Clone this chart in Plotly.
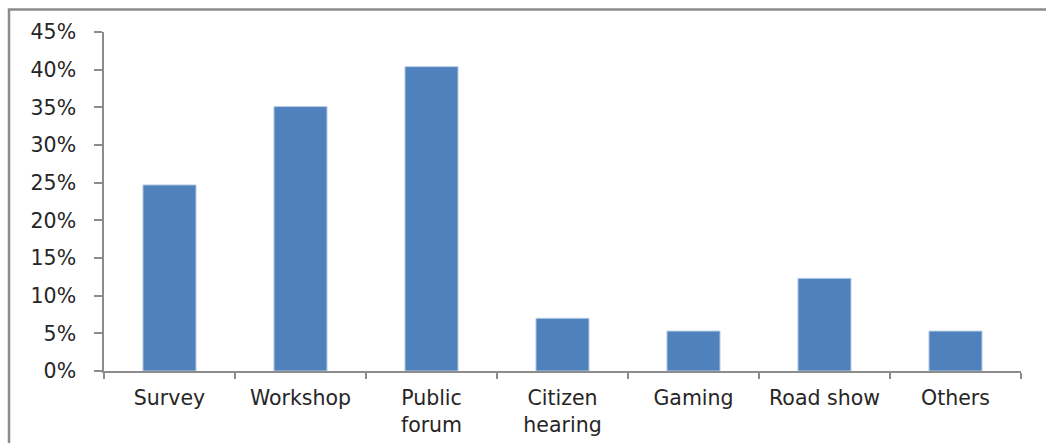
import plotly.graph_objects as go

# Share of participation methods
categories = ["Survey", "Workshop", "Public<br>forum", "Citizen<br>hearing",
              "Gaming", "Road show", "Others"]
shares = [0.247, 0.351, 0.404, 0.070, 0.053, 0.123, 0.053]
y_ticks = [0, 0.05, 0.10, 0.15, 0.20, 0.25, 0.30, 0.35, 0.40, 0.45]

BAR = "#4F81BD"
AXIS = "#8C8C8C"
TEXT = "#262626"
FONT = "DejaVu Sans"
FSIZE = 20.5

fig = go.Figure(
    go.Bar(
        x=categories,
        y=shares,
        marker=dict(color=BAR, line=dict(color="#B9CDE5", width=1)),
        hoverinfo="x+y",
    )
)

fig.update_layout(
    width=1046,
    height=443,
    margin=dict(l=104, r=25, t=32, b=72),
    paper_bgcolor="white",
    plot_bgcolor="white",
    bargap=0.595,
    showlegend=False,
    font=dict(family=FONT, size=FSIZE, color=TEXT),
    shapes=[
        # chart frame
        dict(type="rect", xref="paper", yref="paper",
             x0=-0.1036, x1=1.1, y0=-0.5, y1=1.0665,
             line=dict(color=AXIS, width=2.5), layer="below"),
    ],
)

fig.update_xaxes(
    type="category",
    automargin=False,
    showline=True,
    linecolor=AXIS,
    linewidth=1.5,
    ticks="outside",
    tickson="boundaries",
    ticklen=6,
    tickcolor=AXIS,
    tickwidth=1.5,
    showgrid=False,
    ticklabelstandoff=8,
    tickfont=dict(family=FONT, size=FSIZE, color=TEXT),
)

fig.update_yaxes(
    range=[0, 0.45],
    tickvals=y_ticks,
    tickformat=".0%",
    automargin=False,
    showline=True,
    linecolor=AXIS,
    linewidth=1.5,
    ticks="outside",
    ticklen=8,
    tickcolor=AXIS,
    tickwidth=1.5,
    showgrid=False,
    zeroline=False,
    ticklabelstandoff=14,
    tickfont=dict(family=FONT, size=FSIZE, color=TEXT),
)

fig.write_html("out.html")
